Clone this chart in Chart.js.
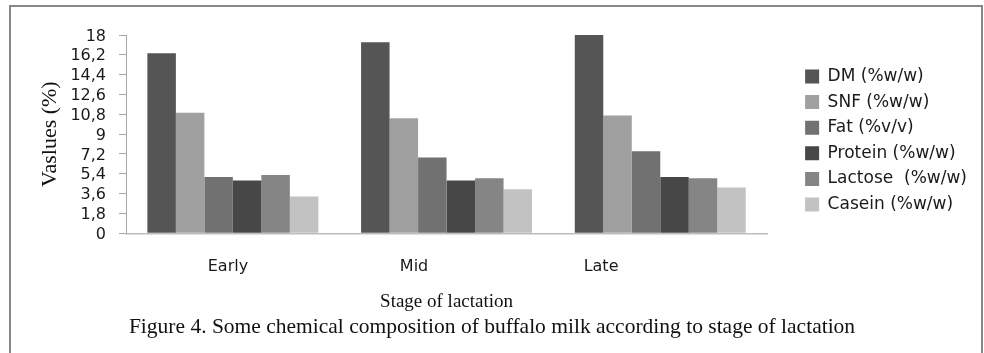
<!DOCTYPE html>
<html><head><meta charset="utf-8">
<script src="https://cdn.jsdelivr.net/npm/chart.js@4.4.1/dist/chart.umd.min.js"></script>
<style>
html,body{margin:0;padding:0;background:#fff;}
#wrap{position:relative;width:984px;height:353px;overflow:hidden;background:#fff;}
#c{position:absolute;left:0;top:0;}
#frame{position:absolute;left:9px;top:5px;width:974px;height:400px;box-sizing:border-box;border:2px solid #878787;pointer-events:none;}
</style></head><body>
<div id="wrap"><canvas id="c" width="984" height="353"></canvas><div id="frame"></div></div>
<script>
// ---- data ----
const categories = ['Early', 'Mid', 'Late'];
const seriesNames = ['DM (%w/w)', 'SNF (%w/w)', 'Fat (%v/v)', 'Protein (%w/w)', 'Lactose  (%w/w)', 'Casein (%w/w)'];
const dm      = [16.35, 17.35, 18.0];
const snf     = [10.95, 10.45, 10.7];
const fat     = [5.1, 6.87, 7.45];
const protein = [4.8, 4.8, 5.1];
const lactose = [5.3, 5.0, 5.0];
const casein  = [3.33, 3.99, 4.15];
const yMin = 0, yMax = 18, yStep = 1.8;
const yTitle = 'Vaslues (%)';
const xTitle = 'Stage of lactation';
const caption = 'Figure 4. Some chemical composition of buffalo milk according to stage of lactation';

// ---- styles ----
const colors = ['#555555', '#a0a0a0', '#717171', '#474747', '#858585', '#c2c2c2'];
const seriesValues = [dm, snf, fat, protein, lactose, casein];
const sansFont = 'DejaVu Sans';
const serifFont = 'Liberation Serif';
const labelCenters = [0.477, 1.348, 2.223]; // label placement along the lower axis (layout)
const sidePad = 7;

const datasets = seriesValues.map((vals, i) => ({
  label: seriesNames[i],
  data: vals,
  backgroundColor: colors[i],
  borderWidth: 0,
  categoryPercentage: 0.8,
  barPercentage: 1.0,
  xAxisID: 'x',
  yAxisID: 'y'
}));

new Chart(document.getElementById('c'), {
  type: 'bar',
  data: { labels: categories, datasets },
  options: {
    responsive: false,
    animation: false,
    devicePixelRatio: 1,
    layout: { padding: { left: sidePad, right: sidePad, top: 35, bottom: 0 } },
    scales: {
      x: {
        position: 'bottom',
        grid: { display: false },
        border: { display: true, color: '#bdbdbd', width: 1.5 },
        ticks: { display: false },
        afterFit: (s) => { s.height = 0; }
      },
      x2: {
        type: 'linear',
        position: 'bottom',
        offset: false,
        min: 0, max: 3,
        grid: { display: false, offset: false },
        border: { display: false },
        afterBuildTicks: (s) => { s.ticks = labelCenters.map(v => ({ value: v })); },
        ticks: {
          autoSkip: false,
          padding: 15.6,
          color: '#1a1a1a',
          font: { family: sansFont, size: 16 },
          callback: (v, i) => categories[i]
        },
        title: {
          display: true, text: xTitle, color: '#111',
          font: { family: serifFont, size: 19, lineHeight: 1.2 },
          padding: { top: 0, bottom: 1.2 }
        },
        afterFit: (s) => { s.height = 81.6; }
      },
      y: {
        min: yMin, max: yMax,
        grid: { display: true, drawOnChartArea: false, drawTicks: true, tickLength: 7, color: '#a6a6a6' },
        border: { display: true, color: '#a6a6a6', width: 1 },
        ticks: {
          stepSize: yStep,
          autoSkip: false,
          padding: 13,
          labelOffset: 1.5,
          color: '#1a1a1a',
          font: { family: sansFont, size: 16 },
          callback: (v) => String(Number(v.toFixed(1))).replace('.', ',')
        },
        title: {
          display: true, text: yTitle, color: '#111',
          font: { family: serifFont, size: 22, lineHeight: 1.2 },
          padding: { top: 36.8 - sidePad, bottom: 0 }
        },
        afterFit: (s) => { s.width = 126 - sidePad; }
      },
      spacer: {
        type: 'linear',
        position: 'right',
        display: false,
        afterFit: (s) => { s.width = 29.4; }
      }
    },
    plugins: {
      legend: {
        position: 'right',
        fullSize: true,
        align: 'start',
        title: { display: true, text: '', padding: 0, font: { size: 24.4, lineHeight: 1 } },
        labels: {
          boxWidth: 14, boxHeight: 14,
          padding: 8.6,
          color: '#1a1a1a',
          font: { family: sansFont, size: 17 }
        }
      },
      title: {
        display: true,
        position: 'bottom',
        text: caption,
        color: '#111',
        font: { family: serifFont, size: 21.5, weight: 'normal', lineHeight: 1.2 },
        padding: { top: 0, bottom: 12.3 }
      },
      tooltip: { enabled: false }
    }
  }
});
</script>
</body></html>
